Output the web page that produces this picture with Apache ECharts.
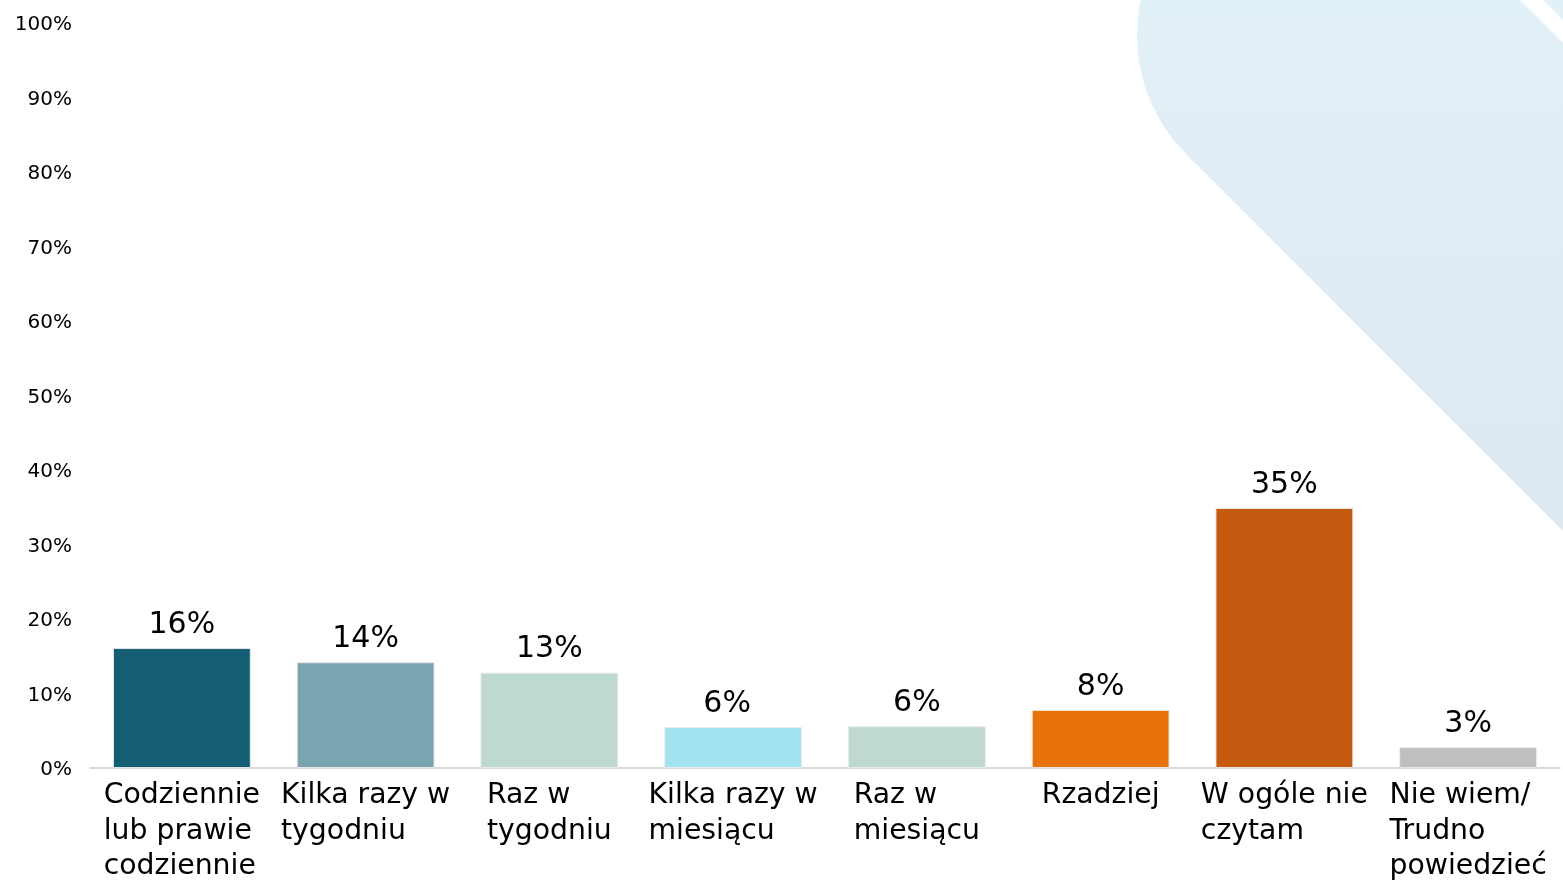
<!DOCTYPE html>
<html>
<head>
<meta charset="utf-8">
<script src="https://cdn.jsdelivr.net/npm/echarts@6/dist/echarts.min.js"></script>
<style>
html,body{margin:0;padding:0;background:#fff;}
#c{width:1563px;height:887px;}
</style>
</head>
<body>
<div id="c"></div>
<script>
const categories = [
  'Codziennie\nlub prawie\ncodziennie',
  'Kilka razy w\ntygodniu',
  'Raz w\ntygodniu',
  'Kilka razy w\nmiesiącu',
  'Raz w\nmiesiącu',
  'Rzadziej',
  'W ogóle nie\nczytam',
  'Nie wiem/\nTrudno\npowiedzieć'
];
const values = [16.1, 14.2, 12.8, 5.5, 5.6, 7.8, 34.9, 2.8];
const valueLabels = ['16%', '14%', '13%', '6%', '6%', '8%', '35%', '3%'];
const barColors = ['#135E72', '#7BA4B1', '#BED8D2', '#A3E3F0', '#BED8D2', '#E8720A', '#C55A11', '#BFBFBF'];
const yTicks = [0, 10, 20, 30, 40, 50, 60, 70, 80, 90, 100];

const chart = echarts.init(document.getElementById('c'));
const FONT = 'DejaVu Sans';

function bgFill() {
  return {
    type: 'linear', x: 0, y: 0, x2: 0, y2: 531, global: true,
    colorStops: [{offset: 0, color: '#E2F0F7'}, {offset: 1, color: '#DDE8F0'}]
  };
}

chart.setOption({
  backgroundColor: '#ffffff',
  animation: false,
  graphic: [
    {
      type: 'circle',
      z: -10,
      silent: true,
      shape: { cx: 1306, cy: 35, r: 169 },
      style: { fill: bgFill() }
    },
    {
      type: 'polygon',
      z: -10,
      silent: true,
      shape: { points: [[1306, 35], [1186.5, 154.5], [1563, 531], [1563, 0], [1306, 0]] },
      style: { fill: bgFill() }
    },
    {
      type: 'polygon',
      z: -9,
      silent: true,
      shape: { points: [[1520, 0], [1543, 0], [1563, 20], [1563, 43]] },
      style: { fill: '#ffffff' }
    }
  ],
  grid: { left: 90, right: 3, top: 23, bottom: 119, containLabel: false },
  xAxis: {
    type: 'category',
    data: categories,
    axisLine: { show: true, lineStyle: { color: '#D9D9D9', width: 2 } },
    axisTick: { show: false },
    axisLabel: {
      interval: 0,
      margin: 10,
      color: '#000000',
      fontFamily: FONT,
      fontSize: 28,
      lineHeight: 35.5,
      formatter: function (v) {
        return v.split('\n').map(l => '{a|' + l + '}').join('\n');
      },
      rich: {
        a: { align: 'left', fontFamily: FONT, fontSize: 28.3, lineHeight: 35.5, color: '#000000' }
      }
    }
  },
  yAxis: {
    type: 'value',
    min: 0,
    max: 100,
    interval: 10,
    axisLine: { show: false },
    axisTick: { show: false },
    splitLine: { show: false },
    axisLabel: {
      margin: 18,
      color: '#000000',
      fontFamily: FONT,
      fontSize: 20,
      formatter: function (v) { return yTicks.includes(v) ? '{b|' + v + '%}' : ''; },
      rich: {
        b: { fontFamily: FONT, fontSize: 20, color: '#000000', padding: [4, 0, 0, 0] }
      }
    }
  },
  series: [{
    type: 'bar',
    barCategoryGap: '25%',
    data: values.map((v, i) => ({
      value: v,
      itemStyle: { color: barColors[i], borderColor: 'rgba(235,235,235,0.9)', borderWidth: 1 },
      label: i === 3 ? { offset: [-6, 0] } : undefined
    })),
    label: {
      show: true,
      position: 'top',
      distance: 8,
      color: '#000000',
      fontFamily: FONT,
      fontSize: 30,
      formatter: function (p) { return valueLabels[p.dataIndex]; }
    }
  }]
});
</script>
</body>
</html>
